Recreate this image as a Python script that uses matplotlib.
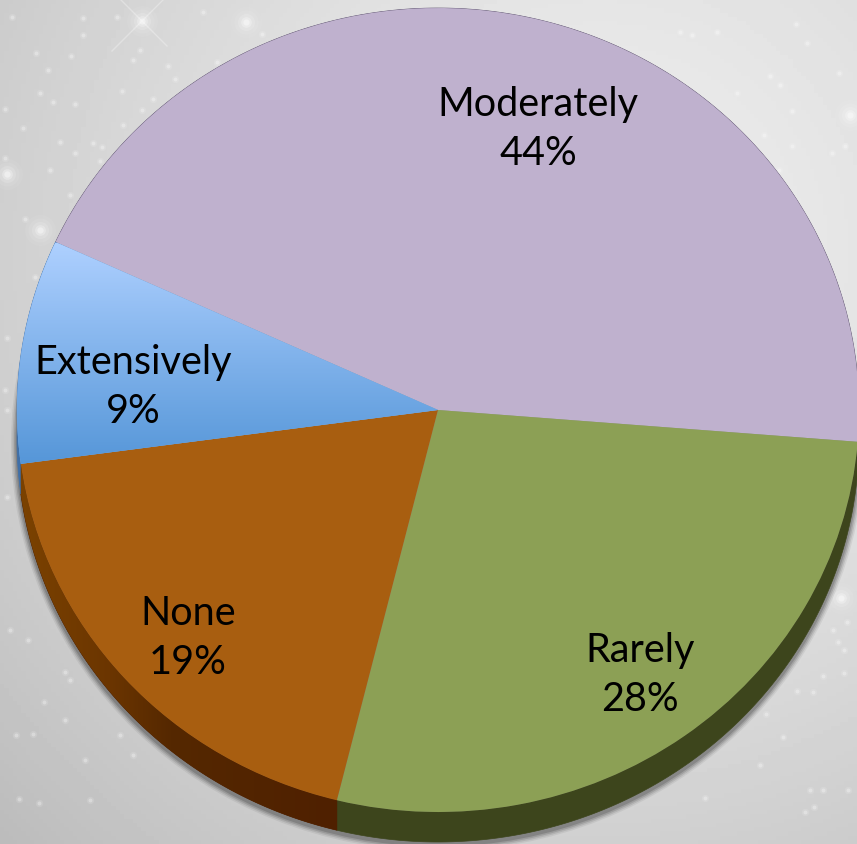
import numpy as np
import matplotlib
matplotlib.use("Agg")
import matplotlib.pyplot as plt
from matplotlib.patches import Ellipse

categories = ["Moderately", "Rarely", "None", "Extensively"]
values = [44.4, 27.6, 19.0, 9.0]
label_x = [538, 640, 188, 133]
label_y = [129, 675, 638, 387]

top_colors = ["#bfb1ce", "#8ca055", "#a85e10", "#79aeea"]
side_colors = ["#5f5470", "#3d451c", "#4f2000", "#3f6fa8"]

# background specks (x, y in pixels)
small_stars = [(12, 17), (83, 18), (117, 17), (83, 35), (36, 53), (71, 56), (48, 70), (40, 93),
               (53, 102), (75, 104), (23, 128), (5, 109), (60, 142), (50, 170), (75, 153),
               (93, 143), (102, 147), (122, 91), (153, 99), (142, 110), (123, 125), (100, 161),
               (70, 195), (25, 219), (35, 277), (5, 158), (140, 50), (133, 60), (168, 66),
               (175, 79), (217, 62), (203, 12), (262, 34), (692, 35), (717, 32), (680, 32),
               (770, 76), (780, 85), (839, 73), (807, 43), (796, 24), (737, 93), (792, 111),
               (764, 135), (792, 146), (832, 153), (845, 146), (779, 170), (847, 622),
               (833, 630), (838, 642), (844, 650), (823, 676), (844, 673), (797, 691),
               (813, 692), (5, 390), (7, 410), (7, 497), (7, 338), (10, 630), (28, 640),
               (65, 672), (70, 680), (44, 702), (65, 720), (33, 734), (16, 735), (85, 760),
               (19, 799), (39, 803), (90, 800), (120, 735), (133, 755), (766, 714), (783, 737),
               (760, 765), (810, 790), (823, 790), (848, 790), (705, 798), (805, 812), (814, 807)]
big_stars = [(142, 21), (246, 22), (7, 174), (850, 115), (40, 230), (841, 598)]
flare_star = (142, 21)

W, H = 857, 844
cx, cy = 438, 410
rx, ry = 421, 402
depth = 30 / ry

fig = plt.figure(figsize=(W / 100, H / 100), dpi=100)

# background in pixel coordinates
bg = fig.add_axes([0, 0, 1, 1])
xx, yy = np.meshgrid(np.linspace(0, W, 200), np.linspace(0, H, 200))
dist = np.hypot(xx - 600, yy - 250)
shade = 0.93 - 0.18 * (dist / 800) ** 1.5
bg.imshow(shade, cmap="gray", vmin=0, vmax=1, extent=(0, W, H, 0), aspect="auto")
sx, sy = zip(*small_stars)
bg.scatter(sx, sy, s=28, color="white", alpha=0.12, linewidths=0)
bg.scatter(sx, sy, s=8, color="white", alpha=0.3, linewidths=0)
bx, by = zip(*big_stars)
for size, alpha in [(500, 0.05), (300, 0.08), (150, 0.15), (60, 0.25), (20, 0.4)]:
    bg.scatter(bx, by, s=size, color="white", alpha=alpha, linewidths=0)
fx, fy = flare_star
bg.plot([fx - 25, fx + 25], [fy - 25, fy + 25], color="white", lw=1, alpha=0.3)
bg.plot([fx - 30, fx + 30], [fy + 30, fy - 30], color="white", lw=1, alpha=0.3)
bg.set_xlim(0, W)
bg.set_ylim(H, 0)
bg.axis("off")

# pie axes, unit radius stretched to the ellipse
ax = fig.add_axes([0, 0, 1, 1])
ax.patch.set_alpha(0)

# soft shadow
for grow, alpha in [(6, 0.06), (4.5, 0.09), (3, 0.12), (1.5, 0.15)]:
    ax.add_patch(Ellipse((0, -depth - 3 / ry), 2 + 2 * grow / rx, 2 + 2 * grow / ry,
                         facecolor="black", edgecolor="none", alpha=alpha, zorder=1))

wedges, _ = ax.pie(values, colors=top_colors, startangle=155.3, counterclock=False,
                   radius=1, center=(0, 0), wedgeprops={"linewidth": 0, "zorder": 5})

# side walls of the disc
walls = []
for wedge, col in zip(wedges, side_colors):
    t = np.radians(np.linspace(wedge.theta1, wedge.theta2, 200))
    xs = np.cos(t)
    ys = np.sin(t)
    walls.append(ax.fill(np.r_[xs, xs[::-1]], np.r_[ys, ys[::-1] - depth], color=col, lw=0.5, zorder=3)[0])

# the None wall gets lighter towards the left
wall_cmap = matplotlib.colors.LinearSegmentedColormap.from_list(
    "wall", [(0, "#7b4200"), (0.285, "#6b3500"), (0.475, "#552800"), (1, "#4f2000")])
wall_im = ax.imshow(np.linspace(0, 1, 256).reshape(1, -1), cmap=wall_cmap,
                    extent=((20 - cx) / rx, (337 - cx) / rx, -1.2, 0), aspect="auto", zorder=4)
wall_im.set_clip_path(walls[2])

# gradient on the Extensively slice
grad = np.linspace(0, 1, 256).reshape(-1, 1)
cmap = matplotlib.colors.LinearSegmentedColormap.from_list("ext", ["#aed0ff", "#5596d8"])
y_top = (cy - 243) / ry
y_bot = (cy - 465) / ry
im = ax.imshow(grad, cmap=cmap, extent=(-1.05, 0.05, y_bot, y_top), aspect="auto", zorder=6)
im.set_clip_path(wedges[3])

ax.set_xlim(-cx / rx, (W - cx) / rx)
ax.set_ylim(-(H - cy) / ry, cy / ry)
ax.set_aspect("auto")
ax.axis("off")

for name, val, x, y in zip(categories, values, label_x, label_y):
    ax.text(x, y, f"{name}\n{val:.0f}%", transform=bg.transData, ha="center", va="center",
            family="Lato", fontsize=28.5, color="black", linespacing=1.42, zorder=10)

fig.savefig("out.png", dpi=100)
